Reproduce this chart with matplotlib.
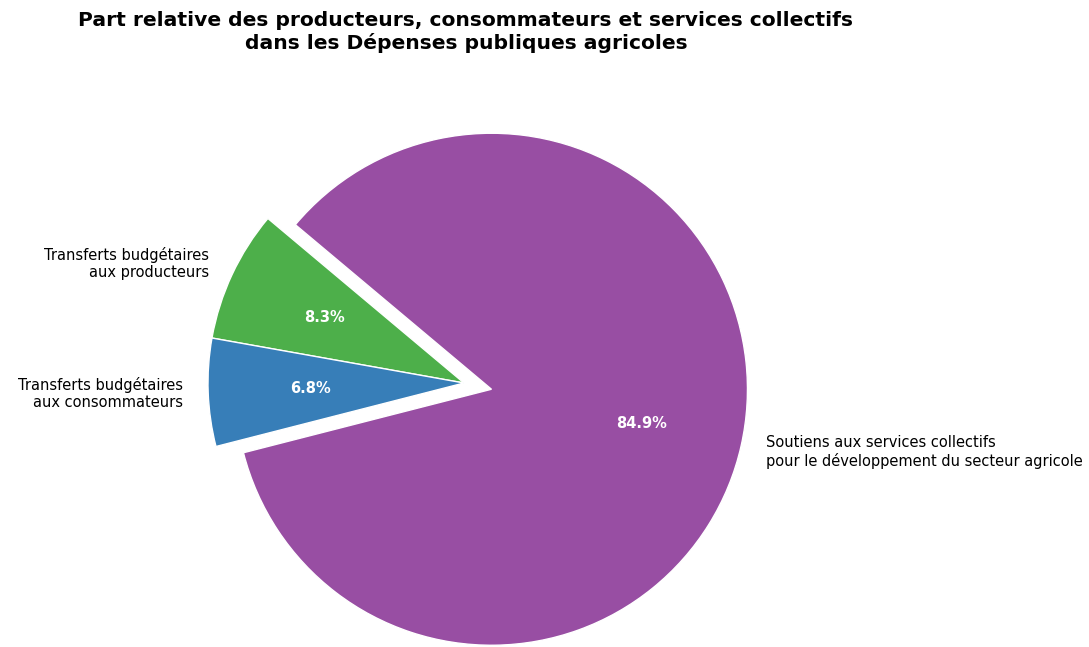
import matplotlib
matplotlib.use("Agg")
from matplotlib import pyplot as plt

labels = ["Transferts budgétaires\naux producteurs",
          "Transferts budgétaires\naux consommateurs",
          "Soutiens aux services collectifs\npour le développement du secteur agricole"]
shares = [8.3, 6.8, 84.9]
colors = ["#4daf4a", "#377eb8", "#984ea3"]
explode = [0, 0, 0.11]

fig = plt.figure(figsize=(10.89, 6.47), dpi=100)
# pie centre near (464, 383) px from top-left, radius 256 px
ax = fig.add_axes([144 / 1089, -56 / 647, 640 / 1089, 640 / 647])

wedges, texts, autotexts = ax.pie(
    shares, labels=labels, colors=colors, explode=explode,
    startangle=140, autopct="%1.1f%%",
    wedgeprops=dict(edgecolor="white", linewidth=1),
    textprops=dict(fontsize=10.5))
for t in autotexts:
    t.set_color("white")
    t.set_fontweight("bold")
ax.set_xlim(-1.25, 1.25)
ax.set_ylim(-1.25, 1.25)
ax.set_aspect("equal")

fig.text(466 / 1089, 1 - 11 / 647,
         "Part relative des producteurs, consommateurs et services collectifs\n"
         "dans les Dépenses publiques agricoles",
         ha="center", va="top", fontsize=14.6, fontweight="bold")

fig.savefig("out.png", dpi=100)
